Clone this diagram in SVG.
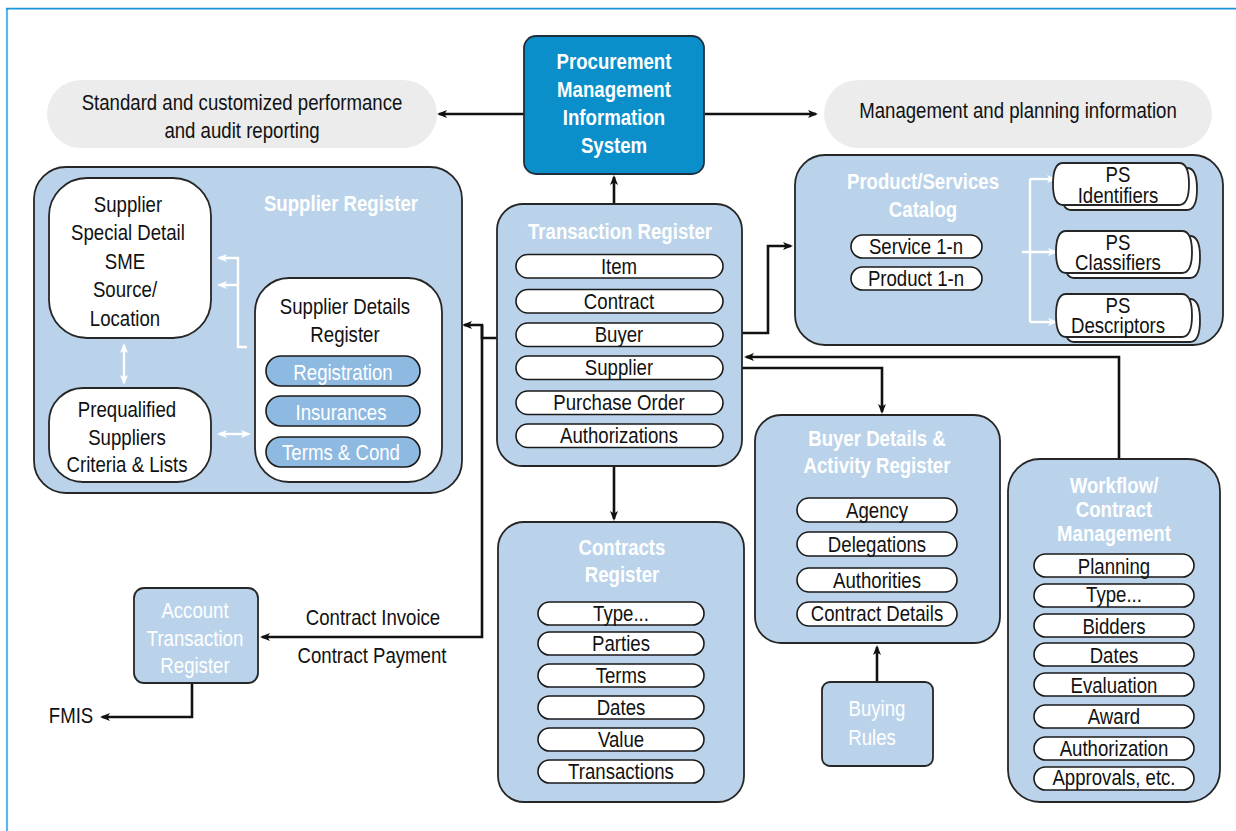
<svg xmlns="http://www.w3.org/2000/svg" width="1236" height="831" viewBox="0 0 1236 831">
  <defs>
    <style>
      .t { font-family: "Liberation Sans", Arial, sans-serif; font-size: 23px; text-anchor: middle; fill: #111;
           transform-box: fill-box; transform-origin: center; transform: scaleX(0.81); }
      .b { font-weight: bold; fill: #fff; }
      .w { fill: #fff; }
      .box { fill: #bad3ea; stroke: #262626; stroke-width: 1.8; }
      .wbox { fill: #fff; stroke: #262626; stroke-width: 1.8; }
      .pill { fill: #fff; stroke: #1a1a1a; stroke-width: 1.6; }
      .dpill { fill: #8ebae2; stroke: #1a1a1a; stroke-width: 1.6; }
      .grey { fill: #ebeceb; }
      .conn { fill: none; stroke: #111; stroke-width: 2.6; }
      .wconn { fill: none; stroke: #fff; stroke-width: 2.4; }
    </style>
    <marker id="ah" viewBox="0 0 10 8" refX="8" refY="4" markerWidth="10" markerHeight="8" markerUnits="userSpaceOnUse" orient="auto">
      <path d="M0,0 L10,4 L0,8 L2.5,4 Z" fill="#111"/>
    </marker>
    <marker id="ahw" viewBox="0 0 10 8" refX="8" refY="4" markerWidth="10" markerHeight="8" markerUnits="userSpaceOnUse" orient="auto-start-reverse">
      <path d="M0,0 L10,4 L0,8 L2.5,4 Z" fill="#fff"/>
    </marker>
  </defs>

  <!-- page frame -->
  <path d="M7,831 V9" fill="none" stroke="#5db7e3" stroke-width="2.2"/>
  <path d="M6,8.6 H1236" fill="none" stroke="#1a96d8" stroke-width="1.8"/>

  <!-- connectors -->
  <g id="connectors">
    <path class="conn" d="M524,114 H439" marker-end="url(#ah)"/>
    <path class="conn" d="M705,114 H816" marker-end="url(#ah)"/>
    <path class="conn" d="M614,204 V177" marker-end="url(#ah)"/>
    <path class="conn" d="M614,466 V519" marker-end="url(#ah)"/>
    <path class="conn" d="M742,333 H768 V246 H791" marker-end="url(#ah)"/>
    <path class="conn" d="M497,338 H482 V325 H464" marker-end="url(#ah)"/>
    <path class="conn" d="M482,325 V637 H262" marker-end="url(#ah)"/>
    <path class="conn" d="M723,368 H882 V412" marker-end="url(#ah)"/>
    <path class="conn" d="M1119,459 V357 H746" marker-end="url(#ah)"/>
    <path class="conn" d="M877,682 V647" marker-end="url(#ah)"/>
    <path class="conn" d="M192,683 V717 H102" marker-end="url(#ah)"/>
  </g>

  <!-- reporting outputs -->
  <g id="reporting">
    <rect class="grey" x="47" y="80" width="390" height="68" rx="34"/>
    <text class="t" x="242" y="110">Standard and customized performance</text>
    <text class="t" x="242" y="138">and audit reporting</text>
  </g>
  <g id="planning">
    <rect class="grey" x="824" y="80" width="388" height="68" rx="34"/>
    <text class="t" x="1018" y="118">Management and planning information</text>
  </g>

  <!-- central system -->
  <g id="pmis">
    <rect x="524" y="36" width="180" height="138" rx="12" fill="#0a8fca" stroke="#1d2f3d" stroke-width="1.8"/>
    <text class="t b" x="614" y="69">Procurement</text>
    <text class="t b" x="614" y="97">Management</text>
    <text class="t b" x="614" y="125">Information</text>
    <text class="t b" x="614" y="153">System</text>
  </g>

  <!-- supplier register -->
  <g id="supplier-register">
    <rect class="box" x="34" y="167" width="428" height="326" rx="32"/>
    <text class="t b" x="341" y="211">Supplier Register</text>
    <g id="supplier-special">
      <rect class="wbox" x="49" y="178" width="162" height="160" rx="38"/>
      <text class="t" x="128" y="212">Supplier</text>
      <text class="t" x="128" y="240">Special Detail</text>
      <text class="t" x="125" y="269">SME</text>
      <text class="t" x="125" y="297">Source/</text>
      <text class="t" x="125" y="326">Location</text>
    </g>
    <g id="prequalified">
      <rect class="wbox" x="49" y="388" width="162" height="94" rx="34"/>
      <text class="t" x="127" y="417">Prequalified</text>
      <text class="t" x="127" y="445">Suppliers</text>
      <text class="t" x="127" y="472">Criteria &amp; Lists</text>
    </g>
    <g id="supplier-details">
      <rect class="wbox" x="255" y="278" width="187" height="204" rx="34"/>
      <text class="t" x="345" y="314">Supplier Details</text>
      <text class="t" x="345" y="342">Register</text>
      <rect class="dpill" x="266" y="356" width="154" height="30" rx="15"/>
      <text class="t w" x="343" y="380">Registration</text>
      <rect class="dpill" x="266" y="396" width="154" height="30" rx="15"/>
      <text class="t w" x="341" y="420">Insurances</text>
      <rect class="dpill" x="266" y="437" width="154" height="30" rx="15"/>
      <text class="t w" x="341" y="460">Terms &amp; Cond</text>
    </g>
    <g id="supplier-links">
      <path class="wconn" d="M247,347 H238 V258 H219" marker-end="url(#ahw)"/>
      <path class="wconn" d="M238,285 H219" marker-end="url(#ahw)"/>
      <path class="wconn" d="M124,345 V383" marker-start="url(#ahw)" marker-end="url(#ahw)"/>
      <path class="wconn" d="M219,434 H249" marker-start="url(#ahw)" marker-end="url(#ahw)"/>
    </g>
  </g>

  <!-- transaction register -->
  <g id="transaction-register">
    <rect class="box" x="497" y="204" width="245" height="262" rx="26"/>
    <text class="t b" x="620" y="239">Transaction Register</text>
    <rect class="pill" x="516" y="254.5" width="207" height="23.5" rx="11.75"/>
    <text class="t" x="619" y="274">Item</text>
    <rect class="pill" x="516" y="289.5" width="207" height="23.5" rx="11.75"/>
    <text class="t" x="619" y="309">Contract</text>
    <rect class="pill" x="516" y="323" width="207" height="23.5" rx="11.75"/>
    <text class="t" x="619" y="342.5">Buyer</text>
    <rect class="pill" x="516" y="356" width="207" height="23.5" rx="11.75"/>
    <text class="t" x="619" y="375.5">Supplier</text>
    <rect class="pill" x="516" y="391" width="207" height="23.5" rx="11.75"/>
    <text class="t" x="619" y="410.5">Purchase Order</text>
    <rect class="pill" x="516" y="424" width="207" height="23.5" rx="11.75"/>
    <text class="t" x="619" y="443.5">Authorizations</text>
  </g>

  <!-- product / services catalog -->
  <g id="catalog">
    <rect class="box" x="795" y="155" width="428" height="190" rx="30"/>
    <text class="t b" x="923" y="189">Product/Services</text>
    <text class="t b" x="923" y="217">Catalog</text>
    <rect class="pill" x="851" y="235" width="131" height="23" rx="11.5"/>
    <text class="t" x="916" y="254.5">Service 1-n</text>
    <rect class="pill" x="851" y="267" width="131" height="23" rx="11.5"/>
    <text class="t" x="916" y="286.5">Product 1-n</text>
    <path class="wconn" d="M1030,179 V322"/>
    <path class="wconn" d="M1030,179 H1055" marker-end="url(#ahw)"/>
    <path class="wconn" d="M1022,252 H1056" marker-end="url(#ahw)"/>
    <path class="wconn" d="M1030,322 H1056" marker-end="url(#ahw)"/>
    <g id="ps-identifiers">
      <path class="wbox" d="M1071,168 H1187 Q1197,168 1197,189 Q1197,210 1187,210 H1071 Q1061,210 1061,189 Q1061,168 1071,168 Z"/>
      <path class="wbox" d="M1063,163 H1179 Q1189,163 1189,184 Q1189,205 1179,205 H1063 Q1053,205 1053,184 Q1053,163 1063,163 Z"/>
      <text class="t" x="1118" y="182">PS</text>
      <text class="t" x="1118" y="203">Identifiers</text>
    </g>
    <g id="ps-classifiers">
      <path class="wbox" d="M1074,236 H1190 Q1200,236 1200,257 Q1200,278 1190,278 H1074 Q1064,278 1064,257 Q1064,236 1074,236 Z"/>
      <path class="wbox" d="M1066,231 H1182 Q1192,231 1192,252 Q1192,273 1182,273 H1066 Q1056,273 1056,252 Q1056,231 1066,231 Z"/>
      <text class="t" x="1118" y="250">PS</text>
      <text class="t" x="1118" y="270">Classifiers</text>
    </g>
    <g id="ps-descriptors">
      <path class="wbox" d="M1074,299 H1190 Q1200,299 1200,320.5 Q1200,342 1190,342 H1074 Q1064,342 1064,320.5 Q1064,299 1074,299 Z"/>
      <path class="wbox" d="M1066,294 H1182 Q1192,294 1192,315.5 Q1192,337 1182,337 H1066 Q1056,337 1056,315.5 Q1056,294 1066,294 Z"/>
      <text class="t" x="1118" y="313">PS</text>
      <text class="t" x="1118" y="333">Descriptors</text>
    </g>
  </g>

  <!-- contracts register -->
  <g id="contracts-register">
    <rect class="box" x="498" y="522" width="246" height="280" rx="26"/>
    <text class="t b" x="622" y="555">Contracts</text>
    <text class="t b" x="622" y="582">Register</text>
    <rect class="pill" x="538" y="602" width="166" height="23" rx="11.5"/>
    <text class="t" x="621" y="621.5">Type...</text>
    <rect class="pill" x="538" y="632" width="166" height="23" rx="11.5"/>
    <text class="t" x="621" y="651.5">Parties</text>
    <rect class="pill" x="538" y="664" width="166" height="23" rx="11.5"/>
    <text class="t" x="621" y="683.5">Terms</text>
    <rect class="pill" x="538" y="696" width="166" height="23" rx="11.5"/>
    <text class="t" x="621" y="715.5">Dates</text>
    <rect class="pill" x="538" y="728" width="166" height="23" rx="11.5"/>
    <text class="t" x="621" y="747.5">Value</text>
    <rect class="pill" x="538" y="760" width="166" height="23" rx="11.5"/>
    <text class="t" x="621" y="779.5">Transactions</text>
  </g>

  <!-- buyer details -->
  <g id="buyer-register">
    <rect class="box" x="755" y="415" width="245" height="228" rx="26"/>
    <text class="t b" x="877" y="446">Buyer Details &amp;</text>
    <text class="t b" x="877" y="473">Activity Register</text>
    <rect class="pill" x="797" y="498" width="160" height="24" rx="12"/>
    <text class="t" x="877" y="518">Agency</text>
    <rect class="pill" x="797" y="532" width="160" height="24" rx="12"/>
    <text class="t" x="877" y="552">Delegations</text>
    <rect class="pill" x="797" y="568" width="160" height="24" rx="12"/>
    <text class="t" x="877" y="588">Authorities</text>
    <rect class="pill" x="797" y="602" width="160" height="24" rx="12"/>
    <text class="t" x="877" y="621.5">Contract Details</text>
  </g>

  <g id="buying-rules">
    <rect class="box" x="822" y="682" width="111" height="84" rx="8"/>
    <text class="t w" x="877" y="716">Buying</text>
    <text class="t w" x="872" y="745">Rules</text>
  </g>

  <!-- workflow -->
  <g id="workflow">
    <rect class="box" x="1008" y="459" width="212" height="343" rx="32"/>
    <text class="t b" x="1114" y="493">Workflow/</text>
    <text class="t b" x="1114" y="517">Contract</text>
    <text class="t b" x="1114" y="541">Management</text>
    <rect class="pill" x="1034" y="554" width="160" height="23" rx="11.5"/>
    <text class="t" x="1114" y="574">Planning</text>
    <rect class="pill" x="1034" y="584" width="160" height="23" rx="11.5"/>
    <text class="t" x="1114" y="602">Type...</text>
    <rect class="pill" x="1034" y="614" width="160" height="23" rx="11.5"/>
    <text class="t" x="1114" y="634">Bidders</text>
    <rect class="pill" x="1034" y="643" width="160" height="23" rx="11.5"/>
    <text class="t" x="1114" y="663">Dates</text>
    <rect class="pill" x="1034" y="673" width="160" height="23" rx="11.5"/>
    <text class="t" x="1114" y="693">Evaluation</text>
    <rect class="pill" x="1034" y="705" width="160" height="23" rx="11.5"/>
    <text class="t" x="1114" y="724">Award</text>
    <rect class="pill" x="1034" y="737" width="160" height="23" rx="11.5"/>
    <text class="t" x="1114" y="756">Authorization</text>
    <rect class="pill" x="1034" y="767" width="160" height="23" rx="11.5"/>
    <text class="t" x="1114" y="785">Approvals, etc.</text>
  </g>

  <!-- accounting -->
  <g id="account-register">
    <rect class="box" x="134" y="588" width="124" height="95" rx="10"/>
    <text class="t w" x="195" y="618">Account</text>
    <text class="t w" x="195" y="646">Transaction</text>
    <text class="t w" x="195" y="673">Register</text>
  </g>
  <g id="labels">
    <text class="t" x="373" y="625">Contract Invoice</text>
    <text class="t" x="372" y="663">Contract Payment</text>
    <text class="t" x="71" y="723">FMIS</text>
  </g>
</svg>
